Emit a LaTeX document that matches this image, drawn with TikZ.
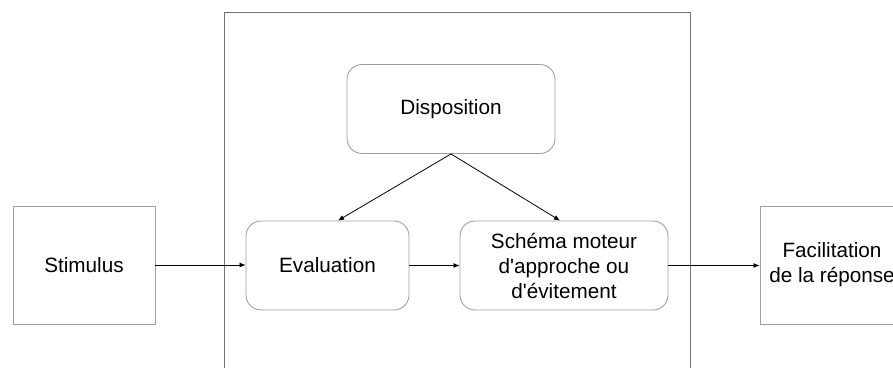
\documentclass[tikz,border=0pt]{standalone}
\usepackage{fontspec}
\setmainfont{Liberation Sans}
\usetikzlibrary{arrows.meta, positioning, calc}
\tikzset{
  boite/.style={draw=gray!75, line width=0.9pt, minimum width=142pt, minimum height=118pt, inner sep=0pt, align=center},
  bloc/.style={draw=gray!75, line width=0.9pt, rounded corners=15pt, minimum height=89pt, inner sep=0pt, align=center},
  fleche/.style={-{Latex[length=6pt,width=5pt]}, line width=0.8pt},
}
\newcommand{\apos}{\textquotesingle}
\begin{document}
\begin{tikzpicture}[x=1pt, y=1pt, font=\fontsize{20.7}{25}\selectfont]
    % Cadre
    \clip (0,0) rectangle (893,367);
    \draw[gray!90!black, line width=0.9pt] (224,-5) -- (224,355) -- (690,355) -- (690,-5);
    % Blocs
    \node[bloc, minimum width=208pt] (disp) at (451,258) {Disposition};
    \node[bloc, minimum width=163pt] (eval) at (327.5,101.5) {Evaluation};
    \node[bloc, minimum width=208pt] (schema) at (564,101.5) {Schéma moteur\\d\apos approche ou\\d\apos évitement};
    \node[boite] (stim) at (84,102) {Stimulus};
    \node[boite, minimum width=144pt] (facil) at (832,102) {Facilitation\\de la réponse};
    % Fleches
    \draw[fleche] (stim.east) -- (stim.east -| eval.west);
    \draw[fleche] (eval.east) -- (eval.east -| schema.west);
    \draw[fleche] (schema.east) -- (schema.east -| facil.west);
    \draw[fleche] (disp.south) -- ($(eval.north)+(10.5,0)$);
    \draw[fleche] (disp.south) -- ($(schema.north)+(-4,0)$);
\end{tikzpicture}
\end{document}
